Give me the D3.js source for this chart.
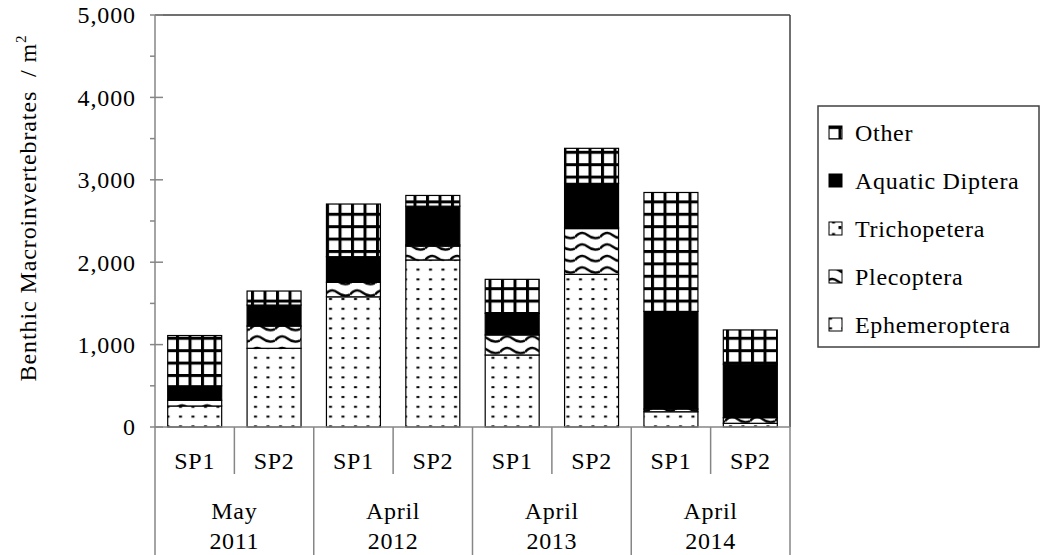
<!DOCTYPE html>
<html>
<head>
<meta charset="utf-8">
<script src="https://cdn.jsdelivr.net/npm/d3@7"></script>
<style>
  body { margin: 0; background: #fff; }
  text { font-family: "Liberation Serif", "Times New Roman", serif; fill: #000; }
</style>
</head>
<body>
<script>
// chart values, bottom to top of each stack
const bars = ["May 2011 SP1", "May 2011 SP2", "April 2012 SP1", "April 2012 SP2",
              "April 2013 SP1", "April 2013 SP2", "April 2014 SP1", "April 2014 SP2"];
const sites = ["SP1", "SP2", "SP1", "SP2", "SP1", "SP2", "SP1", "SP2"];
const months = ["May", "April", "April", "April"];
const years = ["2011", "2012", "2013", "2014"];

const ephemeroptera = [255, 955, 1580, 2027, 874, 1853, 185, 45];
const plecoptera = [70, 270, 176, 168, 243, 555, 33, 68];
const trichopetera = [0, 0, 0, 15, 0, 15, 0, 0];
const aquaticDiptera = [175, 255, 311, 470, 263, 534, 1185, 650];
const other = [610, 170, 639, 130, 412, 425, 1443, 415];

const keys = ["Ephemeroptera", "Plecoptera", "Trichopetera", "Aquatic Diptera", "Other"];
const yTicks = [0, 1000, 2000, 3000, 4000, 5000];
const yMinorTicks = [500, 1500, 2500, 3500, 4500];

// build table for d3.stack
const table = bars.map((b, i) => ({
  bar: b,
  "Ephemeroptera": ephemeroptera[i],
  "Plecoptera": plecoptera[i],
  "Trichopetera": trichopetera[i],
  "Aquatic Diptera": aquaticDiptera[i],
  "Other": other[i]
}));

const width = 1042;
const height = 555;
const plotLeft = 155, plotRight = 790, plotTop = 15, plotBottom = 427;
const axisGray = '#868686';

const svg = d3.select('body')
  .append('svg')
  .attr('width', width)
  .attr('height', height);

// patterns
const defs = svg.append('defs');

// Other: grid
let p = defs.append('pattern').attr('id', 'p-other').attr('patternUnits', 'userSpaceOnUse')
  .attr('width', 12.5).attr('height', 12.4).attr('x', 1).attr('y', 2);
p.append('rect').attr('width', 12.5).attr('height', 12.4).attr('fill', '#fff');
p.append('rect').attr('width', 3).attr('height', 12.4).attr('fill', '#000');
p.append('rect').attr('width', 12.5).attr('height', 3).attr('fill', '#000');

// Ephemeroptera: sparse dots
p = defs.append('pattern').attr('id', 'p-eph').attr('patternUnits', 'userSpaceOnUse')
  .attr('width', 12.5).attr('height', 9.8);
p.append('rect').attr('width', 12.5).attr('height', 9.8).attr('fill', '#fff');
p.append('rect').attr('x', 4).attr('y', 4).attr('width', 3).attr('height', 2).attr('fill', '#000');

// Plecoptera: waves
p = defs.append('pattern').attr('id', 'p-ple').attr('patternUnits', 'userSpaceOnUse')
  .attr('width', 25).attr('height', 11.5);
p.append('rect').attr('width', 25).attr('height', 11.5).attr('fill', '#fff');
p.append('path').attr('d', 'M0,7 Q6.25,0 12.5,5 T25,7')
  .attr('fill', 'none').attr('stroke', '#000').attr('stroke-width', 2.4);

// Trichopetera: confetti dots
p = defs.append('pattern').attr('id', 'p-tri').attr('patternUnits', 'userSpaceOnUse')
  .attr('width', 12.5).attr('height', 12.5);
p.append('rect').attr('width', 12.5).attr('height', 12.5).attr('fill', '#fff');
p.append('rect').attr('x', 1).attr('y', 1).attr('width', 3).attr('height', 3).attr('fill', '#000');
p.append('rect').attr('x', 7).attr('y', 8).attr('width', 3).attr('height', 3).attr('fill', '#000');

const fills = {
  "Ephemeroptera": 'url(#p-eph)',
  "Plecoptera": 'url(#p-ple)',
  "Trichopetera": 'url(#p-tri)',
  "Aquatic Diptera": '#000',
  "Other": 'url(#p-other)'
};

// scales
const x = d3.scaleBand()
  .domain(bars)
  .range([plotLeft, plotRight])
  .paddingInner(0.32)
  .paddingOuter(0.16);

const y = d3.scaleLinear()
  .domain([0, 5000])
  .range([plotBottom, plotTop]);

// plot border (top and right)
svg.append('line').attr('x1', plotLeft).attr('x2', plotRight).attr('y1', plotTop).attr('y2', plotTop)
  .attr('stroke', '#404040').attr('stroke-width', 1.5);
svg.append('line').attr('x1', plotRight).attr('x2', plotRight).attr('y1', plotTop).attr('y2', plotBottom)
  .attr('stroke', '#404040').attr('stroke-width', 1.5);

// stacked bars
const series = d3.stack().keys(keys)(table);

series.forEach(s => {
  svg.append('g')
    .selectAll('rect')
    .data(s)
    .join('rect')
    .attr('x', d => x(d.data.bar))
    .attr('y', d => y(d[1]))
    .attr('width', x.bandwidth())
    .attr('height', d => y(d[0]) - y(d[1]))
    .attr('fill', fills[s.key])
    .attr('stroke', '#000')
    .attr('stroke-width', 1.2);
});

// y axis
svg.append('line').attr('x1', plotLeft).attr('x2', plotLeft).attr('y1', plotTop).attr('y2', height)
  .attr('stroke', axisGray).attr('stroke-width', 1.5);

yTicks.forEach(t => {
  svg.append('line').attr('x1', plotLeft - 5).attr('x2', plotLeft + 8)
    .attr('y1', y(t)).attr('y2', y(t))
    .attr('stroke', axisGray).attr('stroke-width', 1.5);
  svg.append('text')
    .attr('x', 136).attr('y', y(t))
    .attr('dy', '0.35em')
    .attr('text-anchor', 'end')
    .attr('font-size', 24)
    .attr('letter-spacing', 0.9)
    .text(d3.format(',')(t));
});
yMinorTicks.forEach(t => {
  svg.append('line').attr('x1', plotLeft - 5).attr('x2', plotLeft)
    .attr('y1', y(t)).attr('y2', y(t))
    .attr('stroke', axisGray).attr('stroke-width', 1.5);
});

// y title
const title = svg.append('text')
  .attr('transform', 'translate(36,208) rotate(-90)')
  .attr('text-anchor', 'middle')
  .attr('font-size', 24)
  .attr('letter-spacing', 0.9)
  .style('white-space', 'pre');
title.append('tspan').text('Benthic Macroinvertebrates  / m');
title.append('tspan').attr('font-size', 15).attr('dy', -10).text('2');

// x axis
svg.append('line').attr('x1', plotLeft).attr('x2', plotRight).attr('y1', plotBottom).attr('y2', plotBottom)
  .attr('stroke', axisGray).attr('stroke-width', 1.5);

const step = x.step();
bars.forEach((b, i) => {
  const cx = x(b) + x.bandwidth() / 2;
  const edge = cx + step / 2;
  const groupEnd = i % 2 === 1;
  svg.append('line')
    .attr('x1', edge).attr('x2', edge)
    .attr('y1', plotBottom).attr('y2', groupEnd ? height : 474)
    .attr('stroke', axisGray).attr('stroke-width', 1.5);
  svg.append('text')
    .attr('x', cx).attr('y', 469)
    .attr('text-anchor', 'middle')
    .attr('font-size', 24)
    .attr('letter-spacing', 0.7)
    .text(sites[i]);
});

months.forEach((m, g) => {
  const cx = x(bars[g * 2]) + x.bandwidth() / 2 + step / 2;
  svg.append('text')
    .attr('x', cx).attr('y', 519)
    .attr('text-anchor', 'middle')
    .attr('font-size', 24)
    .attr('letter-spacing', 0.7)
    .text(m);
  svg.append('text')
    .attr('x', cx).attr('y', 549)
    .attr('text-anchor', 'middle')
    .attr('font-size', 24)
    .attr('letter-spacing', 0.7)
    .text(years[g]);
});

// legend
svg.append('rect')
  .attr('x', 818).attr('y', 106)
  .attr('width', 221).attr('height', 241)
  .attr('fill', '#fff')
  .attr('stroke', '#404040').attr('stroke-width', 1.5);

const legendKeys = keys.slice().reverse();
legendKeys.forEach((k, i) => {
  const cy = 133 + i * 48;
  svg.append('rect')
    .attr('x', 829).attr('y', cy - 7)
    .attr('width', 13).attr('height', 13)
    .attr('fill', fills[k])
    .attr('stroke', '#000').attr('stroke-width', 1);
  svg.append('text')
    .attr('x', 855).attr('y', cy)
    .attr('dy', '0.35em')
    .attr('font-size', 24)
    .attr('letter-spacing', 0.7)
    .text(k);
});
</script>
</body>
</html>
